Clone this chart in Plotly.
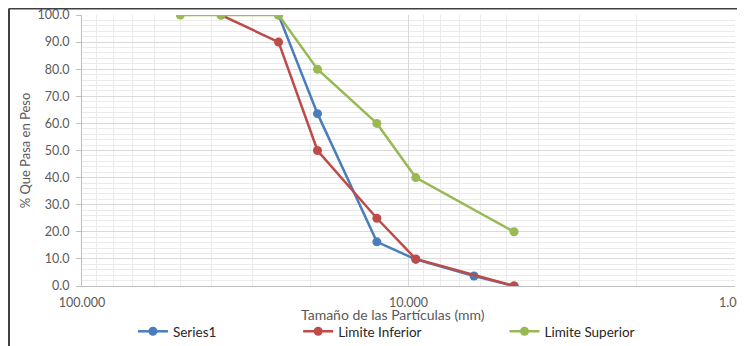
import plotly.graph_objects as go

# Data
series1_sizes = [25, 19, 12.5, 9.5, 6.3, 4.75]
series1_pass = [100.0, 63.6, 16.3, 9.8, 3.7, 0.0]
inferior_sizes = [37.5, 25, 19, 12.5, 9.5, 4.75]
inferior_pass = [100.0, 90.0, 50.0, 25.0, 10.0, 0.0]
superior_sizes = [50, 37.5, 25, 19, 12.5, 9.5, 4.75]
superior_pass = [100.0, 100.0, 100.0, 80.0, 60.0, 40.0, 20.0]
x_tickvals = [100, 10, 1]
x_ticktext = ["100.000", "10.000", "1.000"]
x_minorvals = [90, 80, 70, 60, 50, 40, 30, 20, 9, 8, 7, 6, 5, 4, 3, 2]

BLUE = "#4A7EBB"
RED = "#BE4B48"
GREEN = "#98B954"
FONT = "Lato"
GREY = "#595959"

fig = go.Figure()
fig.add_trace(go.Scatter(x=series1_sizes, y=series1_pass, name="Series1",
                         mode="lines+markers", line=dict(color=BLUE, width=2.5),
                         marker=dict(size=9, color=BLUE), legend="legend", showlegend=True))
fig.add_trace(go.Scatter(x=inferior_sizes, y=inferior_pass, name="Limite Inferior",
                         mode="lines+markers", line=dict(color=RED, width=2.5),
                         marker=dict(size=9, color=RED), legend="legend2", showlegend=True))
fig.add_trace(go.Scatter(x=superior_sizes, y=superior_pass, name="Limite Superior",
                         mode="lines+markers", line=dict(color=GREEN, width=2.5),
                         marker=dict(size=9, color=GREEN), legend="legend3", showlegend=True))

legend_common = dict(orientation="h", yanchor="middle", y=-0.168, xanchor="left",
                     font=dict(family=FONT, size=13.5, color="#262626"),
                     bgcolor="rgba(0,0,0,0)", itemwidth=30)

fig.update_layout(
    width=745, height=346,
    showlegend=True,
    margin=dict(l=74, r=18, t=7, b=68, autoexpand=False),
    paper_bgcolor="white", plot_bgcolor="white",
    font=dict(family=FONT, size=12, color=GREY),
    legend=dict(legend_common, x=0.078),
    legend2=dict(legend_common, x=0.331),
    legend3=dict(legend_common, x=0.647),
    xaxis=dict(
        type="log", range=[2, 0], automargin=False,
        tickvals=x_tickvals, ticktext=x_ticktext,
        showgrid=True, gridcolor="#D9D9D9", gridwidth=1,
        minor=dict(tickvals=x_minorvals, showgrid=True, gridcolor="#EBEBEB", gridwidth=1),
        showline=True, linecolor="#BFBFBF", linewidth=1,
        ticks="", zeroline=False, ticklabelstandoff=5,
        ticklabeloverflow="allow",
        tickfont=dict(family=FONT, size=12.5, color=GREY),
    ),
    yaxis=dict(
        range=[0, 100], dtick=10, tickformat=".1f", automargin=False,
        showgrid=True, gridcolor="#D9D9D9", gridwidth=1,
        minor=dict(dtick=2, showgrid=True, gridcolor="#EBEBEB", gridwidth=1),
        showline=True, linecolor="#BFBFBF", linewidth=1,
        ticks="outside", ticklen=5, tickcolor="#BFBFBF",
        zeroline=False, ticklabelstandoff=4,
        ticklabeloverflow="allow",
        title=dict(text="% Que Pasa en Peso", standoff=3,
                   font=dict(family=FONT, size=13, color=GREY)),
        tickfont=dict(family=FONT, size=12.5, color=GREY),
    ),
    annotations=[dict(text="Tamaño de las Partículas (mm)", xref="paper", yref="paper",
                      x=0.476, y=-0.106, xanchor="center", yanchor="middle",
                      showarrow=False, font=dict(family=FONT, size=14, color=GREY))],
)

# outer chart frame (top and left edges visible)
fig.add_shape(type="line", xref="paper", yref="paper", x0=-0.1118, x1=1.05,
              y0=1.024, y1=1.024, line=dict(color="#404040", width=2))
fig.add_shape(type="line", xref="paper", yref="paper", x0=-0.1118, x1=-0.1118,
              y0=1.024, y1=-0.3, line=dict(color="#404040", width=2))

fig.write_html("out.html")
